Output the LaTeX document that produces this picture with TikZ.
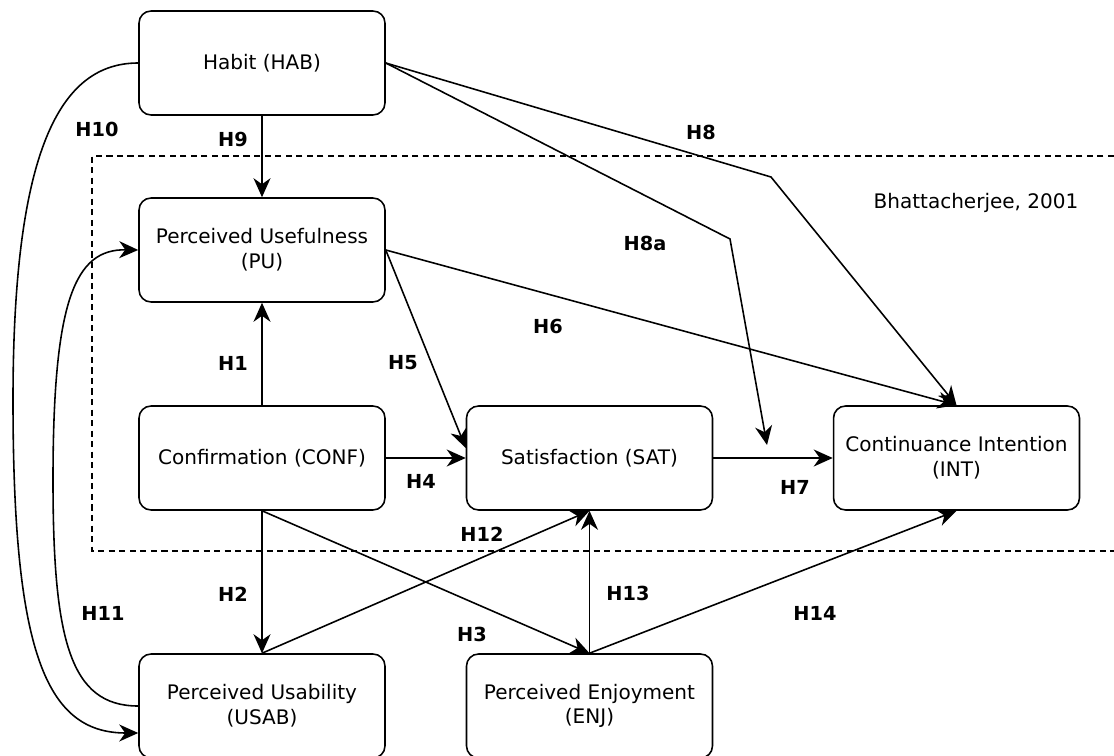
\documentclass[tikz,border=0pt]{standalone}
\usepackage{fontspec}
\setmainfont{DejaVu Sans}
\usetikzlibrary{arrows.meta}

\begin{document}
\begin{tikzpicture}[x=0.02cm, y=-0.02cm,
		box/.style={draw, rounded corners=0.24cm, line width=0.9pt, minimum width=4.92cm, minimum height=2.08cm, align=center, font=\fontsize{11.4}{14}\selectfont},
		hyp/.style={font=\fontsize{11}{13}\selectfont\bfseries},
		link/.style={line width=0.9pt, -{Stealth[length=0.38cm, width=0.34cm, inset=0.12cm]}}]
		\useasboundingbox (0,0) rectangle (1114,756);

		\draw[line width=0.75pt, dash pattern=on 3.5pt off 2.5pt] (1114,156) -- (92,156) -- (92,551) -- (1114,551);
		\node[font=\fontsize{11.4}{14}\selectfont] (ref) at (976,203) {Bhattacherjee, 2001};

		\node[box] (hab) at (262,63) {Habit (HAB)};
		\node[box] (pu) at (262,250) {Perceived Usefulness\\(PU)};
		\node[box] (conf) at (262,458) {Confirmation (CONF)};
		\node[box] (usab) at (262,706) {Perceived Usability\\(USAB)};
		\node[box] (sat) at (589.5,458) {Satisfaction (SAT)};
		\node[box] (enj) at (589.5,706) {Perceived Enjoyment\\(ENJ)};
		\node[box] (int) at (956.5,458) {Continuance Intention\\(INT)};

		\coordinate (b8) at (771,177);
		\coordinate (b8a) at (730,239);
		\coordinate (e8a) at (767,445);

		\draw[link] (hab) -- (pu);
		\draw[link] (conf) -- (pu);
		\draw[link] (conf) -- (usab);
		\draw[link] (conf.south) -- (enj.north);
		\draw[link] (conf) -- (sat);
		\draw[link] (pu.east) -- ([yshift=0.2cm]sat.west);
		\draw[link] (pu.east) -- (int.north);
		\draw[link] (sat) -- (int);
		\draw[link] (hab.east) -- (b8) -- (int.north);
		\draw[link] (hab.east) -- (b8a) -- (e8a);
		\draw[link] (usab.north) -- (sat.south);
		\draw[link] (enj) -- (sat);
		\draw[link] (enj.north) -- (int.south);
		\draw[link] (hab.west) .. controls (60,63) and (13,150) .. (13,400)
			.. controls (13,650) and (45,733) .. ([yshift=-0.54cm]usab.west);
		\draw[link] (usab.west) .. controls (70,706) and (53,640) .. (53,480)
			.. controls (53,300) and (75,249) .. (pu.west);

		\node[hyp] (h1) at (233,363) {H1};
		\node[hyp] (h2) at (233,594) {H2};
		\node[hyp] (h3) at (472,634) {H3};
		\node[hyp] (h4) at (421,481) {H4};
		\node[hyp] (h5) at (403,363) {H5};
		\node[hyp] (h6) at (548,326) {H6};
		\node[hyp] (h7) at (795,487) {H7};
		\node[hyp] (h8) at (701,132) {H8};
		\node[hyp] (h8a) at (645,243) {H8a};
		\node[hyp] (h9) at (233,139) {H9};
		\node[hyp] (h10) at (97,129) {H10};
		\node[hyp] (h11) at (103,613) {H11};
		\node[hyp] (h12) at (482,534) {H12};
		\node[hyp] (h13) at (628,593) {H13};
		\node[hyp] (h14) at (815,613) {H14};
	\end{tikzpicture}
\end{document}
